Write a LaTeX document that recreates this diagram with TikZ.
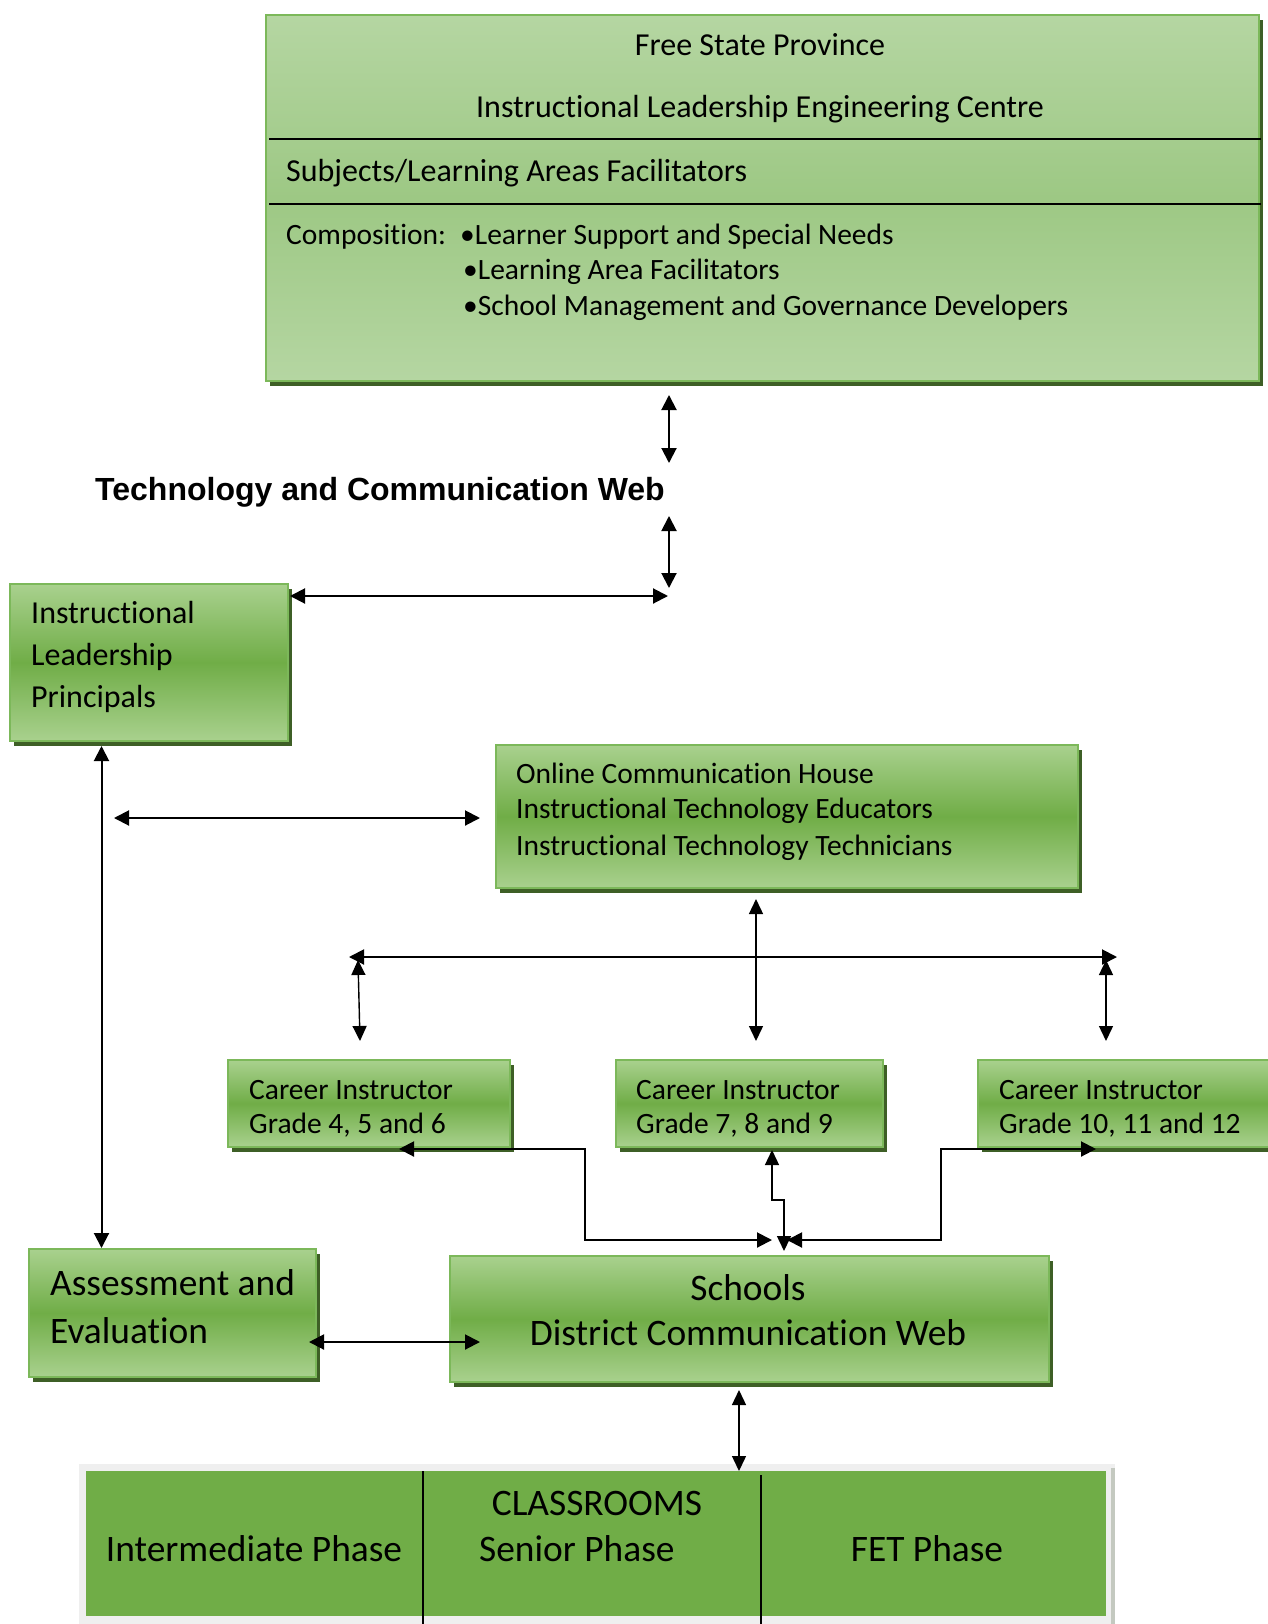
\documentclass[tikz,border=0pt]{standalone}
\usepackage{fontspec}
\setmainfont{Carlito}[Ligatures=NoCommon]
\newfontfamily\headfont{Liberation Sans}
\usetikzlibrary{arrows.meta,shadows}

\definecolor{gLight}{HTML}{A9D18E}
\definecolor{gMid}{HTML}{70AD47}
\definecolor{gEdge}{HTML}{7CB85A}
\definecolor{gShadow}{HTML}{3E5F26}
\definecolor{pLight}{HTML}{B5D6A2}
\definecolor{pMid}{HTML}{9DC884}
\definecolor{frameGray}{HTML}{EFEFEF}
\definecolor{frameEdge}{HTML}{C4C9C0}

\tikzset{
  panel/.style={draw=gEdge, line width=2pt, anchor=north west, inner sep=0pt,
    drop shadow={shadow xshift=4pt, shadow yshift=-5pt, fill=gShadow, opacity=1}},
  greenbox/.style={panel, top color=gLight, bottom color=gLight, middle color=gMid},
  palebox/.style={panel, top color=pLight, bottom color=pLight, middle color=pMid},
  dbl/.style={{Triangle[length=15pt,width=15pt]}-{Triangle[length=15pt,width=15pt]}, line width=2pt},
  dblthin/.style={{Triangle[length=15pt,width=14pt]}-{Triangle[length=15pt,width=14pt]}, line width=1.4pt},
  lbl/.style={inner sep=0pt, anchor=base west},
  clbl/.style={inner sep=0pt, anchor=base},
  big/.style={font=\fontsize{32}{38}\selectfont},
  comp/.style={font=\fontsize{29.5}{35}\selectfont},
  mid/.style={font=\fontsize{29.5}{35}\selectfont},
  prin/.style={font=\fontsize{32}{38}\selectfont},
  large/.style={font=\fontsize{37.4}{44}\selectfont},
}

\begin{document}
\begin{tikzpicture}[x=1pt, y=-1pt]
\useasboundingbox (0,0) rectangle (1267,1624);

% ---------- boxes ----------
\node[palebox, minimum width=993pt, minimum height=366pt] (top) at (265,14) {};
\node[greenbox, minimum width=278pt, minimum height=157pt] (prin) at (9,583) {};
\node[greenbox, minimum width=582pt, minimum height=143pt] (online) at (495,744) {};
\node[greenbox, minimum width=282pt, minimum height=87pt] (c1) at (227,1059) {};
\node[greenbox, minimum width=267pt, minimum height=87pt] (c2) at (615,1059) {};
\node[greenbox, minimum width=291pt, minimum height=87pt] (c3) at (977,1059) {};
\node[greenbox, minimum width=287pt, minimum height=128pt] (assess) at (28,1248) {};
\node[greenbox, minimum width=599pt, minimum height=126pt] (schools) at (449,1255) {};

% classrooms table
\fill[frameGray] (79,1464) rectangle (1115,1630);
\fill[frameEdge] (1111,1468) rectangle (1115,1630);
\node[anchor=north west, inner sep=0pt, fill=gMid, minimum width=1020pt, minimum height=145pt] (rooms) at (86,1471) {};
\draw[line width=1.5pt] (423,1471) -- (423,1624);
\draw[line width=1.5pt] (761,1475) -- (761,1624);

% ---------- top panel ----------
\draw[line width=1.8pt] (269,139) -- (1261,139);
\draw[line width=1.8pt] (269,204) -- (1261,204);
\node[clbl, big] (tFree) at (760,56) {Free State Province};
\node[clbl, big] (tCentre) at (760,118) {Instructional Leadership Engineering Centre};
\node[lbl, big] (tSubj) at (286,182) {Subjects/Learning Areas Facilitators};
\node[lbl, comp] (tComp) at (286,244) {Composition:};
\node[lbl, comp] (tB1) at (460,244) {•Learner Support and Special Needs};
\node[lbl, comp] (tB2) at (463,279) {•Learning Area Facilitators};
\node[lbl, comp] (tB3) at (463,315) {•School Management and Governance Developers};

% ---------- web title ----------
\node[lbl, font=\headfont\bfseries\fontsize{32}{38}\selectfont] (web) at (95,500) {Technology and Communication Web};

% ---------- box texts ----------
\node[lbl, prin] (p1) at (31,623) {Instructional};
\node[lbl, prin] (p2) at (31,665) {Leadership};
\node[lbl, prin] (p3) at (31,707) {Principals};

\node[lbl, mid] (o1) at (516,783) {Online Communication House};
\node[lbl, mid] (o2) at (516,818) {Instructional Technology Educators};
\node[lbl, mid] (o3) at (516,855) {Instructional Technology Technicians};

\node[lbl, mid] (c1a) at (249,1099) {Career Instructor};
\node[lbl, mid] (c1b) at (249,1133) {Grade 4, 5 and 6};
\node[lbl, mid] (c2a) at (636,1099) {Career Instructor};
\node[lbl, mid] (c2b) at (636,1133) {Grade 7, 8 and 9};
\node[lbl, mid] (c3a) at (999,1099) {Career Instructor};
\node[lbl, mid] (c3b) at (999,1133) {Grade 10, 11 and 12};

\node[lbl, large] (a1) at (50,1295) {Assessment and};
\node[lbl, large] (a2) at (50,1343) {Evaluation};

\node[clbl, large] (s1) at (748,1300) {Schools};
\node[clbl, large] (s2) at (748,1345) {District Communication Web};

\node[clbl, large] (r0) at (597,1515) {CLASSROOMS};
\node[clbl, large] (r1) at (254,1561) {Intermediate Phase};
\node[lbl, large] (r2) at (479,1561) {Senior Phase};
\node[clbl, large] (r3) at (927,1561) {FET Phase};

% ---------- connector points ----------
\coordinate (webA) at (669,463);
\coordinate (webB) at (669,516);
\coordinate (webC) at (669,588);
\coordinate (webD) at (668,596);
\coordinate (prinR) at (290,596);
\coordinate (lineL) at (114,818);
\coordinate (vx) at (101.5,0);
\coordinate (hubM) at (756,957);
\coordinate (hubL) at (349,957);
\coordinate (hubR) at (1117,957);
\coordinate (hubLa) at (358,960);
\coordinate (hubLb) at (360,1041);
\coordinate (hubRa) at (1106,960);
\coordinate (hubRb) at (1106,1041);
\coordinate (c1tip) at (399,1149);
\coordinate (jL) at (585,1240);
\coordinate (sL) at (772,1240);
\coordinate (c3tip) at (1096,1149);
\coordinate (jR) at (941,1240);
\coordinate (sR) at (787,1240);
\coordinate (c2tip) at (772,1150);
\coordinate (jog) at (784,1200);
\coordinate (c2end) at (784,1251);
\coordinate (assR) at (309,1342);
\coordinate (schL) at (480,1342);
\coordinate (roomX) at (739,0);

% ---------- connectors ----------
\draw[dbl, shorten <=13pt] (top.south -| webA) -- (webA);
\draw[dbl] (webB) -- (webC);
\draw[dbl] (prinR) -- (webD);
\draw[dbl, shorten >=15pt] (lineL) -- (online.west |- lineL);
\draw[dbl, shorten <=4pt] (prin.south -| vx) -- (assess.north -| vx);
\draw[dblthin, shorten <=10pt, shorten >=18pt] (online.south -| hubM) -- (c2.north -| hubM);
\draw[dbl] (hubL) -- (hubR);
\draw[dblthin] (hubLa) -- (hubLb);
\draw[dblthin] (hubRa) -- (hubRb);
\draw[dbl] (c1tip) -| (jL) -- (sL);
\draw[dbl] (sR) -- (jR) |- (c3tip);
\draw[dblthin] (c2tip) |- (jog) -- (c2end);
\draw[dbl] (assR) -- (schL);
\draw[dblthin, shorten <=7pt] (schools.south -| roomX) -- (rooms.north -| roomX);
\end{tikzpicture}
\end{document}
